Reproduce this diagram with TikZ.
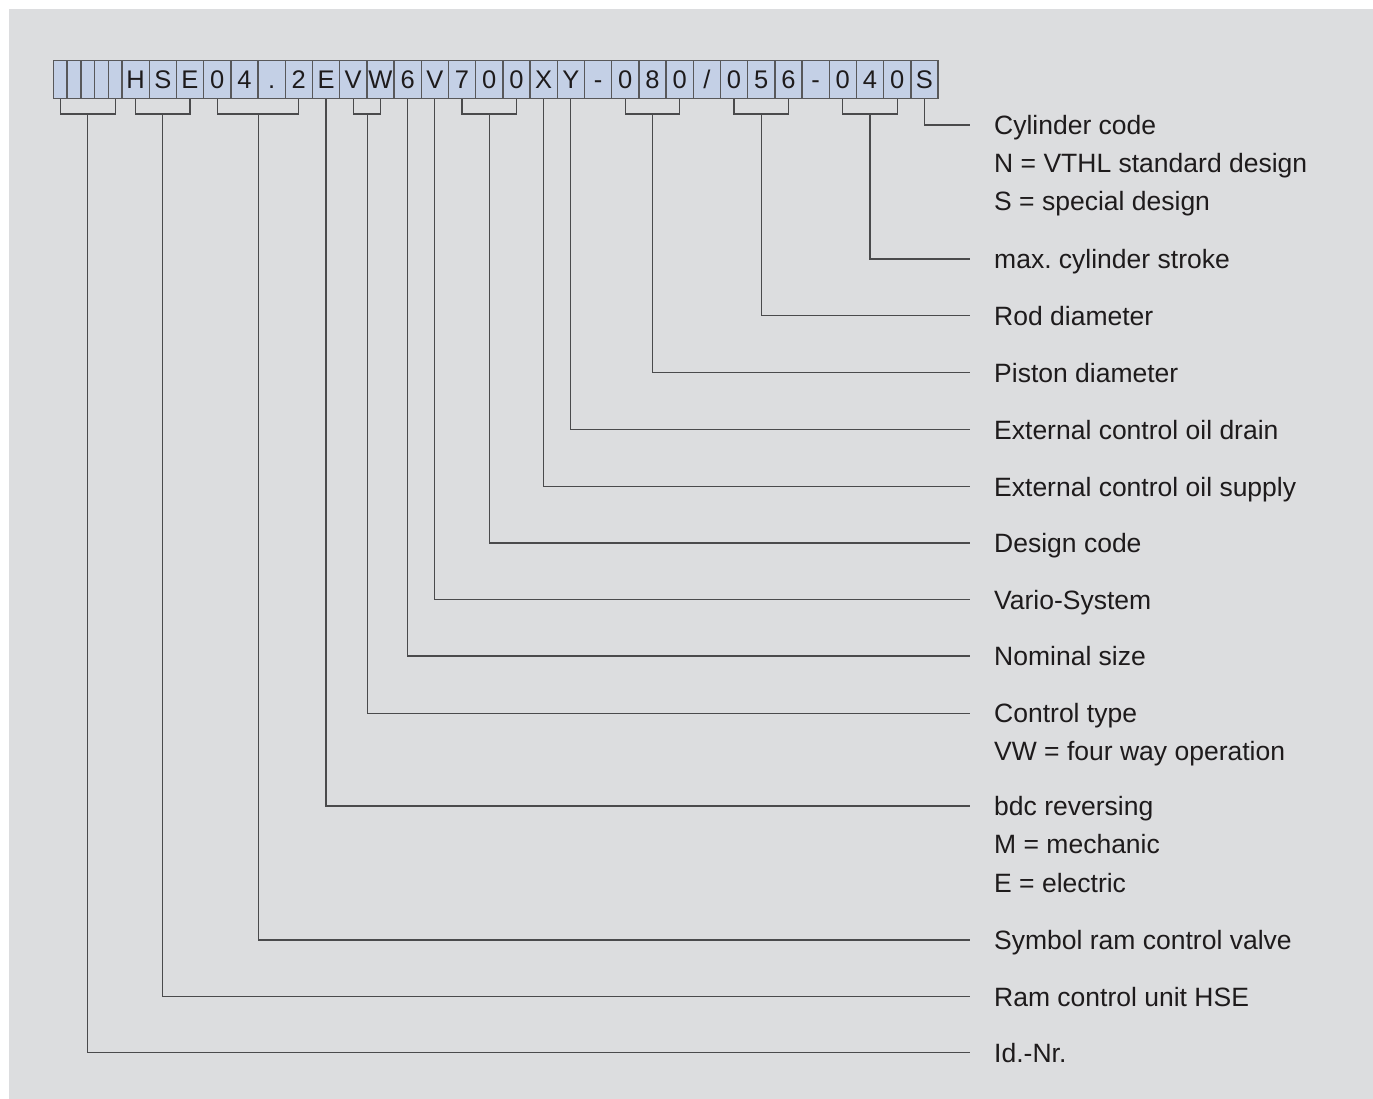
\documentclass[tikz,border=0pt]{standalone}
\usepackage{fontspec}
\setmainfont{Liberation Sans}
\frenchspacing
\definecolor{bggray}{HTML}{DCDDDF}
\definecolor{cellfill}{HTML}{C4D0E6}
\definecolor{cellline}{HTML}{58585A}
\definecolor{connline}{HTML}{4A4A4C}
\definecolor{textcol}{HTML}{1E1B1C}
\begin{document}
\begin{tikzpicture}[x=1pt,y=-1pt,
  cell/.style={draw=cellline, fill=cellfill, line width=1.4pt, minimum height=38pt,
    inner sep=0pt, text height=18.3pt, text depth=0pt, anchor=north west,
    font=\fontsize{25.5}{30}\selectfont, text=textcol},
  conn/.style={draw=connline, line width=1.2pt},
  lab/.style={anchor=base west, inner sep=0pt, font=\fontsize{26.5}{30}\selectfont, text=textcol}]
\useasboundingbox (0,0) rectangle (1373,1099);
\fill[white] (0,0) rectangle (1373,1099);
\fill[bggray] (9,9) rectangle (1373,1099);

% code cells
\foreach \i in {1,...,5}
  \node[cell, minimum width=13.72pt] (s\i) at ({52.7+13.72*(\i-1)},60) {};
\foreach \ch [count=\i from 0] in {H,S,E,0,4,.,2,E,V,W,6,V,7,0,0,X,Y,-,0,8,0,/,0,5,6,-,0,4,0,S}
  \node[cell, minimum width=27.2pt] (L\i) at ({121.3+27.2*\i},60) {\ch};

% line ends
\coordinate (e1) at (970,125);
\coordinate (e2) at (970,259);
\coordinate (e3) at (970,315.5);
\coordinate (e4) at (970,372.5);
\coordinate (e5) at (970,429.5);
\coordinate (e6) at (970,486.5);
\coordinate (e7) at (970,543);
\coordinate (e8) at (970,599.5);
\coordinate (e9) at (970,656);
\coordinate (e10) at (970,713.5);
\coordinate (e11) at (970,806);
\coordinate (e12) at (970,940);
\coordinate (e13) at (970,996.5);
\coordinate (e14) at (970,1052.5);

% labels
\node[lab] (lab1) at (994,134.5) {Cylinder code};
\node[lab] (lab1b) at (994,172.5) {N = VTHL standard design};
\node[lab] (lab1c) at (994,210.5) {S = special design};
\node[lab] (lab2) at (994,268.5) {max. cylinder stroke};
\node[lab] (lab3) at (994,325) {Rod diameter};
\node[lab] (lab4) at (994,382) {Piston diameter};
\node[lab] (lab5) at (994,439) {External control oil drain};
\node[lab] (lab6) at (994,496) {External control oil supply};
\node[lab] (lab7) at (994,552.5) {Design code};
\node[lab] (lab8) at (994,609) {Vario-System};
\node[lab] (lab9) at (994,665.5) {Nominal size};
\node[lab] (lab10) at (994,722) {Control type};
\node[lab] (lab10b) at (994,760) {VW = four way operation};
\node[lab] (lab11) at (994,815) {bdc reversing};
\node[lab] (lab11b) at (994,853.5) {M = mechanic};
\node[lab] (lab11c) at (994,892) {E = electric};
\node[lab] (lab12) at (994,949.5) {Symbol ram control valve};
\node[lab] (lab13) at (994,1006) {Ram control unit HSE};
\node[lab] (lab14) at (994,1062) {Id.-Nr.};

% connectors
\draw[conn] (L29.south) |- (e1);
\draw[conn] (L26.south) -- ++(0,14.7) -| (L28.south);
\draw[conn] (L27.south) ++(0,14.7) |- (e2);
\draw[conn] (L22.south) -- ++(0,14.7) -| (L24.south);
\draw[conn] (L23.south) ++(0,14.7) |- (e3);
\draw[conn] (L18.south) -- ++(0,14.7) -| (L20.south);
\draw[conn] (L19.south) ++(0,14.7) |- (e4);
\draw[conn] (L16.south) |- (e5);
\draw[conn] (L15.south) |- (e6);
\draw[conn] (L12.south) -- ++(0,14.7) -| (L14.south);
\draw[conn] (L13.south) ++(0,14.7) |- (e7);
\draw[conn] (L11.south) |- (e8);
\draw[conn] (L10.south) |- (e9);
\draw[conn] (L8.south) -- ++(0,14.7) -| (L9.south);
\draw[conn] (L8.south east) ++(0,14.7) |- (e10);
\draw[conn] (L7.south) |- (e11);
\draw[conn] (L3.south) -- ++(0,14.7) -| (L6.south);
\draw[conn] (L4.south east) ++(0,14.7) |- (e12);
\draw[conn] (L0.south) -- ++(0,14.7) -| (L2.south);
\draw[conn] (L1.south) ++(0,14.7) |- (e13);
\draw[conn] (s1.south) -- ++(0,14.7) -| (s5.south);
\draw[conn] (s3.south) ++(0,14.7) |- (e14);
\end{tikzpicture}
\end{document}
